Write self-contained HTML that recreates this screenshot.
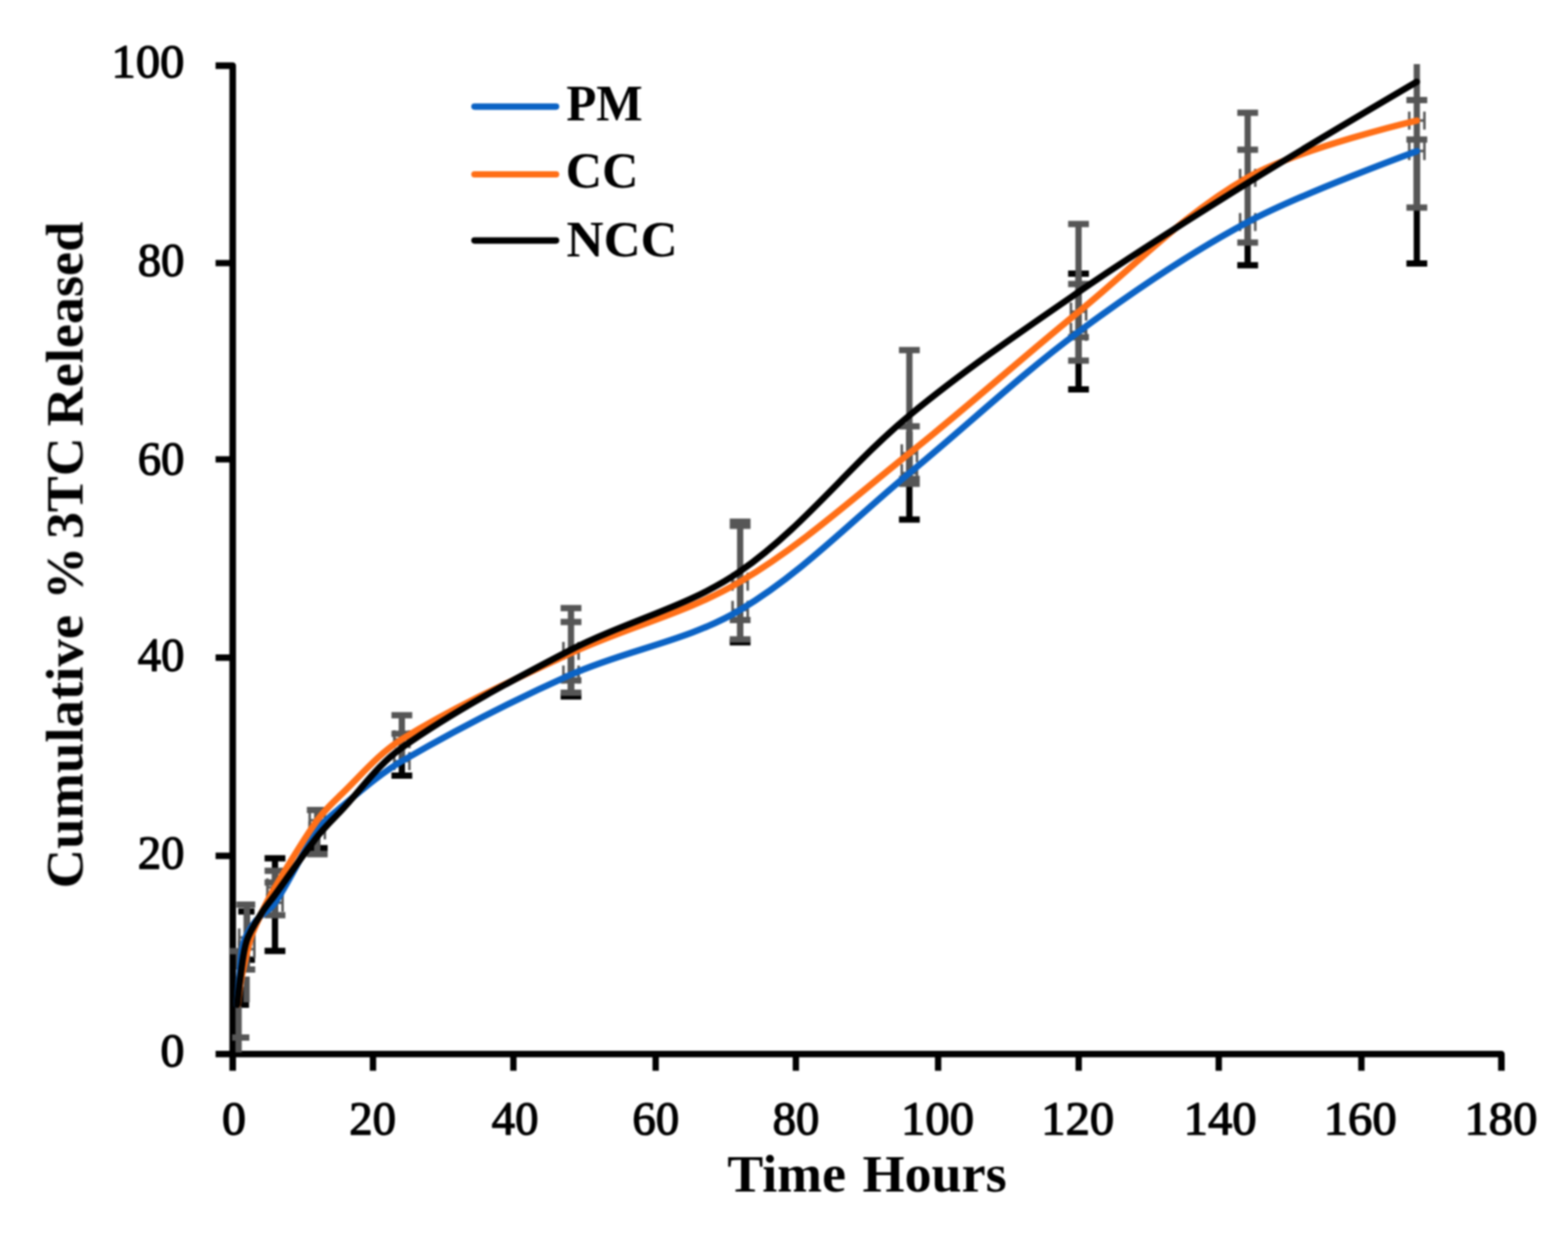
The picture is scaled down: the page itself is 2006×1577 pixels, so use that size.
<!DOCTYPE html>
<html lang="en"><head><meta charset="utf-8"><title>Cumulative % 3TC Released vs Time</title>
<style>html,body{margin:0;padding:0;background:#fff}body{width:2006px;height:1577px;overflow:hidden}svg{display:block}</style>
</head><body>
<svg width="2006" height="1577" viewBox="0 0 2006 1577">
<rect width="2006" height="1577" fill="#fff"/>
<defs><filter id="soft" x="0" y="0" width="2006" height="1577" filterUnits="userSpaceOnUse" color-interpolation-filters="sRGB"><feGaussianBlur stdDeviation="1.0"/></filter></defs>
<g id="chart" filter="url(#soft)">
<g stroke="#000" stroke-width="8.4" fill="none" stroke-linecap="butt">
<path d="M275.8 84.05H297.7V1369.5" stroke-linejoin="round"/>
<path d="M275.8 1348.15H1920.8V1369.5" stroke-linejoin="round"/>
<path d="M275.8 1094.6H297.7M275.8 841.15H297.7M275.8 587.5H297.7M275.8 336.5H297.7M477.2 1348.15V1369.5M656.8 1348.15V1369.5M838.8 1348.15V1369.5M1018.2 1348.15V1369.5M1200.2 1348.15V1369.5M1380.0 1348.15V1369.5M1559.2 1348.15V1369.5M1741.7 1348.15V1369.5" stroke-width="8.1"/>
</g>
<path d="M1812.6 195.0V336.9M1799.3 336.9H1825.9" stroke="#000" stroke-width="8.0" fill="none"/>
<path d="M1596.2 283.0V339.2M1582.9 339.2H1609.5" stroke="#000" stroke-width="8.0" fill="none"/>
<path d="M1379.8 349.9V497.9M1366.5 349.9H1393.1M1366.5 497.9H1393.1" stroke="#000" stroke-width="8.0" fill="none"/>
<path d="M1163.4 552.0V664.5M1150.1 664.5H1176.7" stroke="#000" stroke-width="8.0" fill="none"/>
<path d="M946.9 740.0V821.5M933.6 821.5H960.2" stroke="#000" stroke-width="8.0" fill="none"/>
<path d="M730.5 840.0V890.8M717.2 890.8H743.8" stroke="#000" stroke-width="8.0" fill="none"/>
<path d="M514.1 947.0V992.0M500.8 992.0H527.4" stroke="#000" stroke-width="8.0" fill="none"/>
<path d="M405.9 1040.0V1084.7M392.6 1084.7H419.2" stroke="#000" stroke-width="8.0" fill="none"/>
<path d="M351.8 1097.8V1216.2M338.5 1097.8H365.1M338.5 1216.2H365.1" stroke="#000" stroke-width="8.0" fill="none"/>
<path d="M315.8 1165.8V1227.4M304.8 1165.8H325.6M305.0 1227.4H326.2" stroke="#000" stroke-width="8.0" fill="none"/>
<path d="M309.7 1262.0V1285.0M300.9 1285.0H318.6" stroke="#000" stroke-width="8.0" fill="none"/>
<path d="M1812.6 81.9V265.5M1799.3 127.9H1825.9M1799.3 178.4H1825.9M1799.3 265.5H1825.9" stroke="#565656" stroke-width="8.0" fill="none"/>
<path d="M1596.2 144.2V310.2M1582.9 144.2H1609.5M1582.9 191.6H1609.5M1582.9 310.2H1609.5" stroke="#565656" stroke-width="8.0" fill="none"/>
<path d="M1379.8 286.4V461.3M1366.5 286.4H1393.1M1366.5 363.2H1393.1M1366.5 431.3H1393.1M1366.5 461.3H1393.1" stroke="#565656" stroke-width="8.0" fill="none"/>
<path d="M1163.4 447.7V618.6M1150.1 447.7H1176.7M1150.1 545.2H1176.7M1150.1 612.5H1176.7M1150.1 618.8H1176.7" stroke="#565656" stroke-width="8.0" fill="none"/>
<path d="M946.9 669.5V818.0M933.6 667.2H960.2M933.6 672.4H960.2M933.6 793.1H960.2M933.6 817.7H960.2" stroke="#565656" stroke-width="8.0" fill="none"/>
<path d="M730.5 777.8V886.0M717.2 777.8H743.8M717.2 795.6H743.8M717.2 870.2H743.8M717.2 885.9H743.8" stroke="#565656" stroke-width="8.0" fill="none"/>
<path d="M514.1 914.7V975.0M500.8 914.7H527.4M500.8 938.5H527.4" stroke="#565656" stroke-width="8.0" fill="none"/>
<path d="M405.9 1036.0V1092.5M392.6 1036.0H419.2M392.6 1092.5H419.2" stroke="#565656" stroke-width="8.0" fill="none"/>
<path d="M351.8 1113.7V1170.6M338.5 1113.7H365.1M338.5 1128.8H365.1M338.5 1170.6H365.1" stroke="#565656" stroke-width="8.0" fill="none"/>
<path d="M315.8 1157.0V1240.0M302.5 1157.0H326.5M305.0 1240.0H326.5" stroke="#565656" stroke-width="8.0" fill="none"/>
<path d="M315.5 1249.0V1282.0" stroke="#565656" stroke-width="8.0" fill="none"/>
<path d="M306.0 1216.5V1240.0M293.5 1216.5H319.0" stroke="#565656" stroke-width="8.0" fill="none"/>
<path d="M305.3 1287.0V1346.0M297.0 1327.0H319.0" stroke="#565656" stroke-width="8.0" fill="none"/>
<path d="M1802.9 154.2H1822.3M1802.9 142.7v23M1822.3 142.7v23" stroke="#565656" stroke-width="3.2" fill="none"/>
<path d="M1802.9 193.2H1822.3M1802.9 181.7v23M1822.3 181.7v23" stroke="#565656" stroke-width="3.2" fill="none"/>
<path d="M1586.5 227.6H1605.9M1586.5 216.1v23M1605.9 216.1v23" stroke="#565656" stroke-width="3.2" fill="none"/>
<path d="M1586.5 284.1H1605.9M1586.5 272.6v23M1605.9 272.6v23" stroke="#565656" stroke-width="3.2" fill="none"/>
<path d="M1370.1 398.6H1389.5M1370.1 387.1v23M1389.5 387.1v23" stroke="#565656" stroke-width="3.2" fill="none"/>
<path d="M1370.1 424.5H1389.5M1370.1 413.0v23M1389.5 413.0v23" stroke="#565656" stroke-width="3.2" fill="none"/>
<path d="M1153.7 579.8H1173.1M1153.7 568.3v23M1173.1 568.3v23" stroke="#565656" stroke-width="3.2" fill="none"/>
<path d="M1153.7 605.1H1173.1M1153.7 593.6v23M1173.1 593.6v23" stroke="#565656" stroke-width="3.2" fill="none"/>
<path d="M937.2 744.0H956.6M937.2 732.5v23M956.6 732.5v23" stroke="#565656" stroke-width="3.2" fill="none"/>
<path d="M937.2 780.1H956.6M937.2 768.6v23M956.6 768.6v23" stroke="#565656" stroke-width="3.2" fill="none"/>
<path d="M720.8 832.5H740.2M720.8 821.0v23M740.2 821.0v23" stroke="#565656" stroke-width="3.2" fill="none"/>
<path d="M720.8 862.8H740.2M720.8 851.3v23M740.2 851.3v23" stroke="#565656" stroke-width="3.2" fill="none"/>
<path d="M504.4 945.5H523.8M504.4 934.0v23M523.8 934.0v23" stroke="#565656" stroke-width="3.2" fill="none"/>
<path d="M504.4 973.5H523.8M504.4 962.0v23M523.8 962.0v23" stroke="#565656" stroke-width="3.2" fill="none"/>
<path d="M396.2 1049.0H415.6M396.2 1037.5v23M415.6 1037.5v23" stroke="#565656" stroke-width="3.2" fill="none"/>
<path d="M396.2 1062.0H415.6M396.2 1050.5v23M415.6 1050.5v23" stroke="#565656" stroke-width="3.2" fill="none"/>
<path d="M342.1 1135.0H361.5M342.1 1123.5v23M361.5 1123.5v23" stroke="#565656" stroke-width="3.2" fill="none"/>
<path d="M342.1 1154.6H361.5M342.1 1143.1v23M361.5 1143.1v23" stroke="#565656" stroke-width="3.2" fill="none"/>
<path d="M306.0 1199.0H325.4M306.0 1187.5v23M325.4 1187.5v23" stroke="#565656" stroke-width="3.2" fill="none"/>
<path d="M306.0 1214.0H325.4M306.0 1202.5v23M325.4 1202.5v23" stroke="#565656" stroke-width="3.2" fill="none"/>
<path d="M303.3 1285.0C303.3 1285.0 305.0 1261.6 306.2 1250.0C307.7 1235.3 307.6 1220.2 311.6 1206.0C314.4 1196.0 320.1 1186.9 326.5 1178.7C333.7 1169.5 345.3 1164.2 351.8 1154.6C371.9 1125.0 385.7 1091.5 405.9 1062.0C413.6 1050.8 424.5 1042.1 435.0 1033.5C460.6 1012.5 485.5 990.1 514.1 973.5C584.3 933.0 656.5 895.9 730.5 862.8C801.0 831.3 880.6 819.6 946.9 780.1C1026.7 732.6 1091.7 664.0 1163.4 605.1C1236.0 545.5 1304.3 480.5 1379.8 424.5C1448.8 373.3 1520.3 324.6 1596.2 284.1C1665.2 247.2 1812.6 193.3 1812.6 193.3" stroke="#0b63c5" stroke-width="8.3" fill="none" stroke-linecap="round" stroke-linejoin="round"/>
<path d="M304.0 1285.0C304.0 1285.0 306.7 1261.6 309.0 1250.0C312.5 1232.7 316.1 1215.4 321.3 1198.5C324.4 1188.5 329.2 1179.0 333.7 1169.6C339.3 1157.9 345.1 1146.2 351.8 1135.0C369.2 1105.9 386.3 1076.6 405.9 1049.0C414.2 1037.3 424.7 1027.4 435.0 1017.5C460.8 992.9 483.8 964.2 514.1 945.5C583.0 903.0 657.1 869.5 730.5 835.3C801.5 802.3 879.5 783.8 946.9 744.0C1024.9 698.0 1092.5 636.2 1163.4 579.8C1236.9 521.2 1306.9 458.4 1379.8 399.0C1451.2 340.8 1516.0 272.4 1596.2 227.0C1662.4 189.5 1812.6 154.2 1812.6 154.2" stroke="#ff6f17" stroke-width="8.3" fill="none" stroke-linecap="round" stroke-linejoin="round"/>
<path d="M303.5 1285.0C303.5 1285.0 305.8 1261.6 307.5 1250.0C309.8 1234.3 310.7 1218.1 315.7 1203.0C319.8 1190.4 327.5 1179.3 334.5 1168.0C339.6 1159.7 346.1 1152.4 351.8 1144.5C369.9 1119.7 387.0 1094.1 405.9 1070.0C414.7 1058.8 425.1 1048.9 435.0 1038.5C461.2 1011.0 483.0 978.2 514.1 956.3C582.3 908.4 656.6 869.5 730.5 831.0C801.0 794.3 881.6 776.0 946.9 730.7C1027.6 674.9 1087.7 593.8 1163.4 531.4C1232.2 474.6 1306.2 424.1 1379.8 373.5C1450.5 324.9 1523.3 279.3 1596.2 234.0C1667.6 189.7 1812.6 104.7 1812.6 104.7" stroke="#000" stroke-width="8.3" fill="none" stroke-linecap="round" stroke-linejoin="round"/>
<g font-family='"Liberation Serif", "DejaVu Serif", serif' font-weight="400" font-size="61.4" fill="#000" stroke="#000" stroke-width="1.6" stroke-linejoin="round">
<text x="205.30" y="1363.9" textLength="30.70" lengthAdjust="spacingAndGlyphs">0</text>
<text x="176.13" y="1110.6" textLength="59.86" lengthAdjust="spacingAndGlyphs">20</text>
<text x="176.13" y="857.6" textLength="59.86" lengthAdjust="spacingAndGlyphs">40</text>
<text x="176.13" y="607.0" textLength="59.86" lengthAdjust="spacingAndGlyphs">60</text>
<text x="176.13" y="353.0" textLength="59.86" lengthAdjust="spacingAndGlyphs">80</text>
<text x="142.52" y="99.3" textLength="93.48" lengthAdjust="spacingAndGlyphs">100</text>
<text x="283.90" y="1451.2" textLength="30.70" lengthAdjust="spacingAndGlyphs">0</text>
<text x="446.87" y="1451.2" textLength="59.86" lengthAdjust="spacingAndGlyphs">20</text>
<text x="629.07" y="1451.2" textLength="59.86" lengthAdjust="spacingAndGlyphs">40</text>
<text x="808.97" y="1451.2" textLength="59.86" lengthAdjust="spacingAndGlyphs">60</text>
<text x="988.42" y="1451.2" textLength="59.86" lengthAdjust="spacingAndGlyphs">80</text>
<text x="1152.66" y="1451.2" textLength="93.48" lengthAdjust="spacingAndGlyphs">100</text>
<text x="1332.06" y="1451.2" textLength="93.48" lengthAdjust="spacingAndGlyphs">120</text>
<text x="1514.26" y="1451.2" textLength="93.48" lengthAdjust="spacingAndGlyphs">140</text>
<text x="1693.46" y="1451.2" textLength="93.48" lengthAdjust="spacingAndGlyphs">160</text>
<text x="1873.46" y="1451.2" textLength="93.48" lengthAdjust="spacingAndGlyphs">180</text>
</g>
<g font-family='"Liberation Serif", "DejaVu Serif", serif' font-weight="700" fill="#000">
<text y="1523.9" font-size="68.4"><tspan x="930.5" textLength="151.7" lengthAdjust="spacingAndGlyphs">Time</tspan> <tspan x="1103.4" textLength="184.4" lengthAdjust="spacingAndGlyphs">Hours</tspan></text>
<text transform="translate(105.6 1133.3) rotate(-90)" font-size="68.6"><tspan x="-3.1" textLength="349.8" lengthAdjust="spacingAndGlyphs">Cumulative</tspan> <tspan x="366.6" textLength="67.3" lengthAdjust="spacingAndGlyphs">%</tspan> <tspan x="443.9" textLength="129.9" lengthAdjust="spacingAndGlyphs">3TC</tspan> <tspan x="587.9" textLength="261.8" lengthAdjust="spacingAndGlyphs">Released</tspan></text>
</g>
<g stroke-width="8.2" stroke-linecap="round" fill="none">
<path d="M607 136.3H711.4" stroke="#0b63c5"/>
<path d="M607 223.0H711.4" stroke="#ff6f17"/>
<path d="M607 307.6H711.4" stroke="#000"/>
</g>
<g font-family='"Liberation Serif", "DejaVu Serif", serif' font-weight="700" font-size="65" fill="#000">
<text x="724.4" y="153.6" textLength="97.8" lengthAdjust="spacingAndGlyphs">PM</text>
<text x="723.7" y="239.5" textLength="93.1" lengthAdjust="spacingAndGlyphs">CC</text>
<text x="724.8" y="327.7" textLength="142.2" lengthAdjust="spacingAndGlyphs">NCC</text>
</g>
</g></svg></body></html>
